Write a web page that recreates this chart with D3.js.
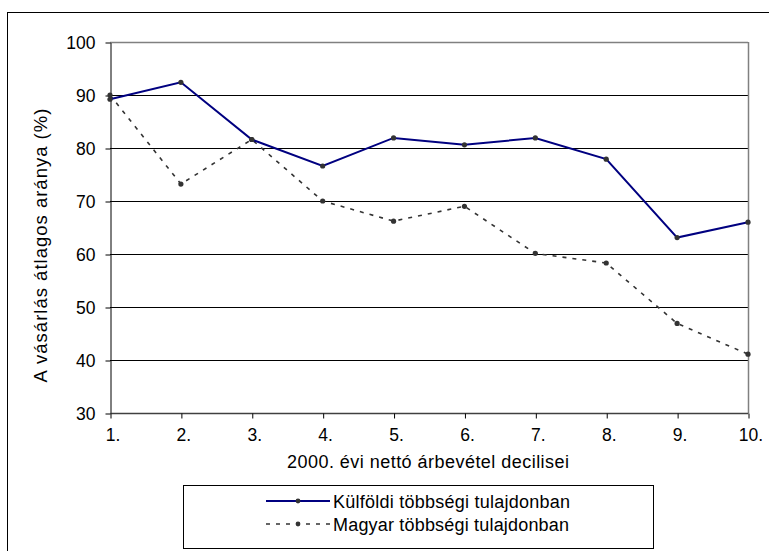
<!DOCTYPE html>
<html>
<head>
<meta charset="utf-8">
<script src="https://cdn.jsdelivr.net/npm/d3@7"></script>
<style>
  body { margin: 0; background: #fff; }
  text { font-family: "Liberation Sans", Arial, sans-serif; fill: #000; }
</style>
</head>
<body>
<script>
// chart data
var deciles = ["1.", "2.", "3.", "4.", "5.", "6.", "7.", "8.", "9.", "10."];
var kulfoldi = [89.2, 92.4, 81.6, 76.6, 81.9, 80.6, 81.9, 77.9, 63.1, 66.0];
var magyar = [90.0, 73.2, 81.6, 70.0, 66.2, 69.0, 60.1, 58.3, 46.9, 41.1];
var yTicks = [30, 40, 50, 60, 70, 80, 90, 100];
var seriesNames = ["Külföldi többségi tulajdonban", "Magyar többségi tulajdonban"];
var xTitle = "2000. évi nettó árbevétel decilisei";
var yTitle = "A vásárlás átlagos aránya (%)";

window.onload = drawChart();

function drawChart(){

    var width = 769,
        height = 551;

    var svg = d3.select("body")
        .append("svg")
        .attr("width", width)
        .attr("height", height);

    //outer chart border
    svg.append("rect")
        .attr("x", 7.5).attr("y", 12.5)
        .attr("width", 780).attr("height", 560)
        .attr("fill", "none")
        .attr("stroke", "#000");

    //plot area
    var left = 110, right = 748, top = 42, bottom = 413;

    var x = d3.scalePoint()
        .domain(deciles)
        .range([left, right]);

    var y = d3.scaleLinear()
        .domain([30, 100])
        .range([bottom, top]);

    //gridlines
    svg.selectAll(".grid")
        .data(yTicks.slice(1))
        .enter()
        .append("line")
        .attr("x1", left).attr("x2", right)
        .attr("y1", function(d){ return Math.round(y(d)) + 0.5; })
        .attr("y2", function(d){ return Math.round(y(d)) + 0.5; })
        .attr("stroke", function(d){ return d == 100 ? "#808080" : "#000"; })
        .attr("stroke-width", function(d){ return d == 100 ? 1.5 : 1; });

    //right border of plot
    svg.append("line")
        .attr("x1", right + 0.5).attr("x2", right + 0.5)
        .attr("y1", top).attr("y2", bottom)
        .attr("stroke", "#808080")
        .attr("stroke-width", 1.5);

    //y axis
    var yAxis = svg.append("g")
        .attr("transform", "translate(" + (left + 0.5) + ",0.5)")
        .call(d3.axisLeft(y).tickValues(yTicks).tickSize(5).tickSizeOuter(0).tickPadding(10));
    yAxis.select(".domain").attr("stroke", "#000");
    yAxis.selectAll("line").attr("stroke", "#000");
    yAxis.selectAll("text")
        .attr("font-size", "17.5px")
        .attr("font-family", "Liberation Sans, Arial, sans-serif")
        .attr("fill", "#000");

    //x axis
    var xAxis = svg.append("g")
        .attr("transform", "translate(0.5," + (bottom + 0.5) + ")")
        .call(d3.axisBottom(x).tickSize(5).tickSizeOuter(0).tickPadding(10));
    xAxis.select(".domain")
        .attr("stroke", "#404040")
        .attr("stroke-width", 1.5)
        .attr("d", "M" + left + ",0H" + right);
    xAxis.selectAll("line").attr("stroke", "#000");
    xAxis.selectAll("text")
        .attr("font-size", "17.5px")
        .attr("font-family", "Liberation Sans, Arial, sans-serif")
        .attr("fill", "#000")
        .attr("dx", 2);

    //axis titles
    svg.append("text")
        .attr("x", 428).attr("y", 468)
        .attr("text-anchor", "middle")
        .attr("font-size", "18px")
        .attr("textLength", 282)
        .attr("lengthAdjust", "spacing")
        .text(xTitle);

    svg.append("g")
        .attr("transform", "translate(47,245)")
        .append("text")
        .attr("transform", "rotate(-90)")
        .attr("x", 0).attr("y", 0)
        .attr("text-anchor", "middle")
        .attr("font-size", "18.5px")
        .attr("letter-spacing", "1px")
        .text(yTitle);

    //lines
    var line = d3.line()
        .x(function(d, i){ return x(deciles[i]); })
        .y(function(d){ return y(d); });

    svg.append("path")
        .datum(magyar)
        .attr("fill", "none")
        .attr("stroke", "#333")
        .attr("stroke-width", 1.6)
        .attr("stroke-dasharray", "4,6")
        .attr("d", line);

    svg.append("path")
        .datum(kulfoldi)
        .attr("fill", "none")
        .attr("stroke", "#000080")
        .attr("stroke-width", 2)
        .attr("d", line);

    //markers
    [kulfoldi, magyar].forEach(function(series){
        svg.selectAll(null)
            .data(series)
            .enter()
            .append("circle")
            .attr("cx", function(d, i){ return x(deciles[i]); })
            .attr("cy", function(d){ return y(d); })
            .attr("r", 2.6)
            .attr("fill", "#333");
    });

    //legend
    var legend = svg.append("g");
    legend.append("rect")
        .attr("x", 183.5).attr("y", 485.5)
        .attr("width", 470).attr("height", 63)
        .attr("fill", "#fff")
        .attr("stroke", "#000");

    var rows = [
        {name: seriesNames[0], y: 501, color: "#000080", dash: null, w: 2, tl: 237},
        {name: seriesNames[1], y: 524, color: "#333", dash: "4,6", w: 1.6, tl: 236}
    ];
    rows.forEach(function(r){
        legend.append("line")
            .attr("x1", 266).attr("x2", 330)
            .attr("y1", r.y).attr("y2", r.y)
            .attr("stroke", r.color)
            .attr("stroke-width", r.w)
            .attr("stroke-dasharray", r.dash);
        legend.append("circle")
            .attr("cx", 298).attr("cy", r.y)
            .attr("r", 2.4)
            .attr("fill", "#333");
        legend.append("text")
            .attr("x", 333).attr("y", r.y + 6.5)
            .attr("font-size", "18px")
            .attr("textLength", r.tl)
            .attr("lengthAdjust", "spacing")
            .text(r.name);
    });
};
</script>
</body>
</html>
